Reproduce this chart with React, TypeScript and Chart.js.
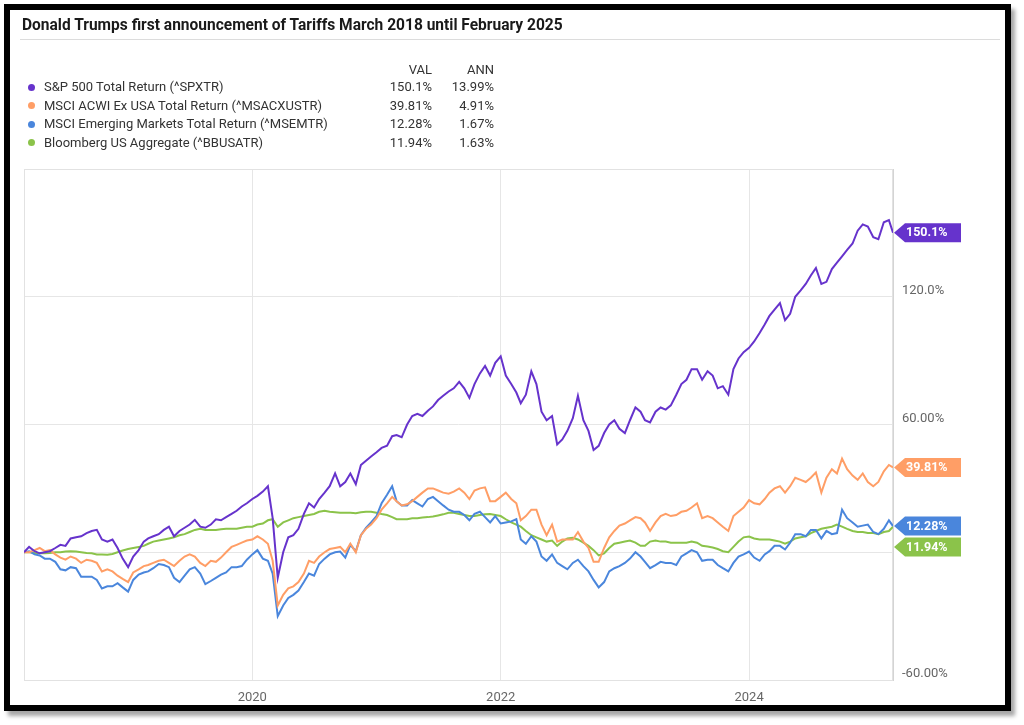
import React, { useEffect, useRef } from "react";
import { Chart, registerables } from "chart.js";
Chart.register(...registerables);

const titleText = "Donald Trumps first announcement of Tariffs March 2018 until February 2025";
const seriesNames = [
  "S&P 500 Total Return (^SPXTR)",
  "MSCI ACWI Ex USA Total Return (^MSACXUSTR)",
  "MSCI Emerging Markets Total Return (^MSEMTR)",
  "Bloomberg US Aggregate (^BBUSATR)",
];
const seriesVal = ["150.1%", "39.81%", "12.28%", "11.94%"];
const seriesAnn = ["13.99%", "4.91%", "1.67%", "1.63%"];
const seriesColors = ["#6633cc", "#ff9e66", "#4a86dc", "#8bc34a"];
const xTickYears = [2020, 2022, 2024];
const yTickValues = [-60, 0, 60, 120, 180];
const yLabelledTicks = [-60, 60, 120];

// observation dates: 1st and 16th of every month, March 2018 – February 2025, then 28 Feb 2025
const dates: string[] = [];
for (let i = 0; i < 84; i++) {
  const y = 2018 + Math.floor((2 + i) / 12);
  const m = ((2 + i) % 12) + 1;
  const mm = m < 10 ? "0" + m : "" + m;
  dates.push(`${y}-${mm}-01`, `${y}-${mm}-16`);
}
dates.push("2025-02-28");

// cumulative total return, %
const spx = [
  0, 2.5, 0.5, -0.5, 0, 0.5, 2, 3.5, 3, 6.5, 7, 7.5, 9, 10, 10.5, 6, 5, 6, 2, -3,
  -7, -2, 1, 5, 6.5, 7.5, 8.5, 10.5, 12, 7.5, 10, 11.5, 13, 15.2, 12, 11.5, 13, 15.5, 15, 16.5,
  18, 19.5, 21.5, 23, 25, 26.5, 28.5, 31, 16, -12, 0, 7, 8, 11, 18, 23, 21, 25, 28, 31,
  37, 31, 33, 37, 32, 41, 43, 45, 47, 49, 50, 54.5, 55, 54, 60, 64, 65, 64, 66.5, 68.5,
  71.5, 73.5, 75.5, 77, 80, 77, 72.5, 79, 84, 87.5, 83, 89, 92, 83, 79, 75, 70, 74, 85, 79,
  66, 62, 64, 50.6, 53, 57, 63, 73.5, 62, 57, 48, 50, 56, 60, 62, 58, 56, 62, 68, 66,
  62, 61, 66, 68, 67, 69, 74, 79, 81, 86, 86, 81, 85, 83, 77, 78, 74, 86, 91, 94,
  96, 99, 103, 107, 111, 114, 117, 109, 112, 120, 123, 126, 130, 133.5, 126, 127, 133, 136, 139, 142,
  145, 151, 154, 153, 148, 147, 155, 156, 150.1,
];
const acwiExUs = [
  0, 0, 1, 2, 0.5, 1, -1, -2.5, -3.5, -2, -3, -5, -3.5, -4, -5, -9, -8, -9, -11, -12.5,
  -14, -9.5, -8, -6.5, -6, -5, -4, -3.5, -5, -6.5, -4, -2, -1, -2, -5, -6.5, -4, -4.5, -2.5, 0,
  2.5, 3.5, 4.5, 5.5, 6, 7.5, 6, 4, -4, -25, -20, -17, -16, -14, -10, -4, -5, -2, 0, 1.5,
  2, 2.5, 0, 4, 0, 8, 11, 13, 16, 20, 23, 26, 24, 22, 22.5, 24, 26, 28, 30, 30,
  29, 28, 27.5, 28.5, 30, 28, 25, 29, 30, 30.5, 24, 24, 26, 28, 25, 23, 15, 17, 20, 20,
  13, 8, 13, 5, 6, 6, 6, 9.5, 5, 2, -4.5, -4.5, 2, 7, 10, 12.5, 13.5, 15, 16.5, 16,
  14, 10, 14, 17, 18, 17, 17.5, 19, 19.5, 21, 23, 16, 17, 16, 14, 12, 10, 17, 19, 21,
  24.5, 23, 22.5, 25, 28, 30, 31, 28, 31, 35, 34, 33, 35, 37.5, 28, 35, 39, 37, 44, 39,
  36, 34, 37, 33, 31, 33, 38, 41, 39.81,
];
const emerging = [
  0, 0.5, -1, -1.5, -3, -3, -4.5, -8, -8.5, -7, -7.5, -11.5, -11.5, -11.5, -13, -17, -16, -16, -14.5, -16.5,
  -18.5, -13, -10.5, -9.5, -9, -7.5, -5.5, -6, -7, -12, -14, -11, -8, -7, -10, -15, -13.5, -12, -10.5, -9.5,
  -7, -7, -6.5, -3.5, -1, 1, -3, -4, -10, -30, -25, -21.5, -20, -18, -14, -10, -11, -5.5, -3, -1,
  0, 0.3, -2.5, 3.5, 0.5, 8, 11.5, 14, 17, 23, 27, 31, 24, 22, 22, 24.5, 23, 21.5, 25, 26,
  24, 22, 20, 19, 19, 17.5, 15, 18, 19, 16.5, 14, 17, 13.5, 14, 14.5, 15.5, 6, 4, 7.5, 5,
  -2, -4, -1, -5, -6.5, -8, -5, -3.5, -6.5, -9, -13, -16.5, -14, -9, -7.5, -6.5, -5, -3, 0, -2,
  -4.5, -7.5, -6, -4.5, -5, -5, -6, -2, -0.5, 1, 0, -4, -3.5, -3.5, -6, -7.5, -9, -5, -2, -1,
  0.3, -2.5, -4, -1, 0.5, 3, 3, 1.3, 4.5, 8.5, 8.5, 7.5, 10.5, 10.5, 6.5, 10, 8.5, 9, 20, 16,
  14, 12, 12.5, 13, 9.5, 8.5, 11, 15, 12.28,
];
const usAggregate = [
  0, 0, -0.3, -0.5, -0.5, -0.3, 0, 0, 0.3, 0.5, 0.3, 0, -0.3, -0.5, -1, -1, -1.2, -0.8, 0, 0.8,
  1.5, 2, 2.5, 3, 4, 5, 5.5, 6, 6.5, 7, 8, 8.5, 9.5, 10.5, 11, 10.5, 10.5, 10.5, 10.8, 11,
  11, 11, 11.5, 12, 12, 13, 13.5, 15, 15.5, 12, 14, 15, 16, 16.5, 17, 17.5, 18, 19, 19.5, 19,
  18.8, 18.5, 18.5, 18.5, 18.3, 18.8, 19, 19, 18.6, 18, 17.5, 16.5, 15.5, 15.5, 15.5, 16, 16, 16.3, 16.5, 16.8,
  17.3, 17.8, 18.5, 18.5, 18, 17.5, 17, 17, 17.5, 17.8, 18, 17.5, 17, 15.5, 14, 13, 12, 10, 8, 7,
  6, 5, 5.5, 3, 5, 6.5, 6.8, 6, 4.5, 3, 1, -1.5, -0.5, 2, 4, 4.5, 5, 5.5, 4.5, 3,
  3, 5, 5.5, 5, 5, 4.5, 4.5, 4.5, 4.5, 5, 4.5, 3, 2.7, 2.2, 1.5, 0.5, 0, 2.5, 5, 7,
  7.4, 6.5, 6, 6, 6, 5.5, 5, 4, 5, 6.5, 7, 7.5, 9, 10, 11, 11.5, 12, 13, 12, 11,
  10, 9.5, 9.5, 9, 9, 8.5, 9.5, 10, 11.94,
];
const seriesData = [spx, acwiExUs, emerging, usAggregate];

function yearFraction(d: string): number {
  const [y, m, day] = d.split("-").map(Number);
  const start = Date.UTC(y, 0, 1);
  const end = Date.UTC(y + 1, 0, 1);
  return y + (Date.UTC(y, m - 1, day) - start) / (end - start);
}

const FONT = "Roboto, 'Noto Sans', sans-serif";

const endLabelPlugin = {
  id: "endLabels",
  beforeDatasetsDraw(chart: any) {
    const { ctx, chartArea: a } = chart;
    ctx.save();
    ctx.strokeStyle = "#e2e2e2";
    ctx.lineWidth = 1;
    ctx.strokeRect(Math.round(a.left) + 0.5, Math.round(a.top) + 0.5, a.right - a.left - 1, a.bottom - a.top);
    ctx.restore();
  },
  afterDatasetsDraw(chart: any) {
    const { ctx, chartArea: a } = chart;
    const ys = chart.scales.y;
    const items = seriesData.map((s, i) => ({
      i,
      y: ys.getPixelForValue(s[s.length - 1]),
    }));
    items.sort((p, q) => p.y - q.y);
    const gap = 21;
    for (let k = 1; k < items.length; k++) {
      if (items[k].y - items[k - 1].y < gap) items[k].y = items[k - 1].y + gap;
    }
    ctx.save();
    for (const it of items) {
      const tip = a.right + 1;
      const bx = tip + 11;
      const bw = 56;
      const h = 19;
      ctx.fillStyle = seriesColors[it.i];
      ctx.beginPath();
      ctx.moveTo(tip, it.y);
      ctx.lineTo(bx, it.y - h / 2);
      ctx.lineTo(bx + bw, it.y - h / 2);
      ctx.lineTo(bx + bw, it.y + h / 2);
      ctx.lineTo(bx, it.y + h / 2);
      ctx.closePath();
      ctx.fill();
      ctx.fillStyle = "#ffffff";
      ctx.font = "bold 12.5px " + FONT;
      ctx.textBaseline = "middle";
      ctx.textAlign = "left";
      ctx.fillText(seriesVal[it.i], bx + 1, it.y + 0.5);
    }
    ctx.restore();
  },
};

function ChartCanvas() {
  const ref = useRef<HTMLCanvasElement | null>(null);
  useEffect(() => {
    if (!ref.current) return;
    const xs = dates.map(yearFraction);
    const chart = new Chart(ref.current, {
      type: "line",
      data: {
        datasets: seriesData.map((s, i) => ({
          label: seriesNames[i],
          data: s.map((v, k) => ({ x: xs[k], y: v })),
          borderColor: seriesColors[i],
          backgroundColor: seriesColors[i],
          borderWidth: 2,
          pointRadius: 0,
          tension: 0,
        })),
      },
      options: {
        animation: false,
        responsive: false,
        devicePixelRatio: 1,
        layout: { padding: { left: 24, top: 169, right: 0, bottom: 0 } },
        plugins: { legend: { display: false }, tooltip: { enabled: false } },
        scales: {
          x: {
            type: "linear",
            min: xs[0],
            max: xs[xs.length - 1],
            afterBuildTicks: (scale: any) => {
              scale.ticks = xTickYears.map((v) => ({ value: v }));
            },
            afterFit: (scale: any) => {
              scale.height = 45;
            },
            ticks: {
              callback: (v: any) => String(v),
              color: "#666",
              font: { family: FONT, size: 13 },
              padding: 10,
              maxRotation: 0,
            },
            grid: { color: "#e6e6e6", drawTicks: false },
            border: { display: false },
          },
          y: {
            type: "linear",
            position: "right",
            min: -60,
            max: 180,
            afterBuildTicks: (scale: any) => {
              scale.ticks = yTickValues.map((v) => ({ value: v }));
            },
            afterFit: (scale: any) => {
              scale.width = 131;
            },
            ticks: {
              callback: (v: any) => (yLabelledTicks.includes(Number(v)) ? Number(v).toPrecision(4) + "%" : ""),
              color: "#666",
              font: { family: FONT, size: 13 },
              padding: 9,
              labelOffset: -6,
            },
            grid: { color: "#e6e6e6", drawTicks: false },
            border: { display: true, color: "#d4d4d4" },
          },
        },
      },
      plugins: [endLabelPlugin],
    } as any);
    return () => chart.destroy();
  }, []);
  return (
    <canvas
      ref={ref}
      width={1024}
      height={725}
      style={{ position: "absolute", left: 0, top: 0, width: 1024, height: 725, display: "block" }}
    />
  );
}

export default function App() {
  const rowY = [87, 105.5, 124, 142.5];
  const cell = { fontSize: 13, color: "#333", lineHeight: "16px", whiteSpace: "nowrap" as const };
  return (
    <div
      style={{
        position: "absolute",
        left: 0,
        top: 0,
        width: 1024,
        height: 725,
        background: "#fff",
        overflow: "hidden",
        fontFamily: FONT,
      }}
    >
      <ChartCanvas />
      <div
        style={{
          position: "absolute",
          left: 4,
          top: 4,
          width: 995,
          height: 695,
          border: "6px solid #000",
          boxShadow: "4px 5px 4px rgba(0,0,0,0.35)",
          pointerEvents: "none",
        }}
      />
      <div
        style={{
          position: "absolute",
          left: 22,
          top: 16,
          fontSize: 16,
          fontWeight: 700,
          color: "#1a1a1a",
          whiteSpace: "nowrap",
          transform: "scaleX(0.97)",
          transformOrigin: "left center",
          lineHeight: "18px",
        }}
      >
        {titleText}
      </div>
      <div style={{ position: "absolute", left: 20, top: 39, width: 980, height: 1, background: "#dcdcdc" }} />
      <div style={{ ...cell, position: "absolute", left: 372, top: 62, width: 60, textAlign: "right" }}>VAL</div>
      <div style={{ ...cell, position: "absolute", left: 434, top: 62, width: 60, textAlign: "right" }}>ANN</div>
      {seriesNames.map((n, i) => (
        <React.Fragment key={n}>
          <div
            style={{
              position: "absolute",
              left: 27.5,
              top: rowY[i] - 3.5,
              width: 7,
              height: 7,
              borderRadius: "50%",
              background: seriesColors[i],
            }}
          />
          <div style={{ ...cell, position: "absolute", left: 44, top: rowY[i] - 8 }}>{n}</div>
          <div style={{ ...cell, position: "absolute", left: 362, top: rowY[i] - 8, width: 70, textAlign: "right" }}>{seriesVal[i]}</div>
          <div style={{ ...cell, position: "absolute", left: 424, top: rowY[i] - 8, width: 70, textAlign: "right" }}>{seriesAnn[i]}</div>
        </React.Fragment>
      ))}
    </div>
  );
}
